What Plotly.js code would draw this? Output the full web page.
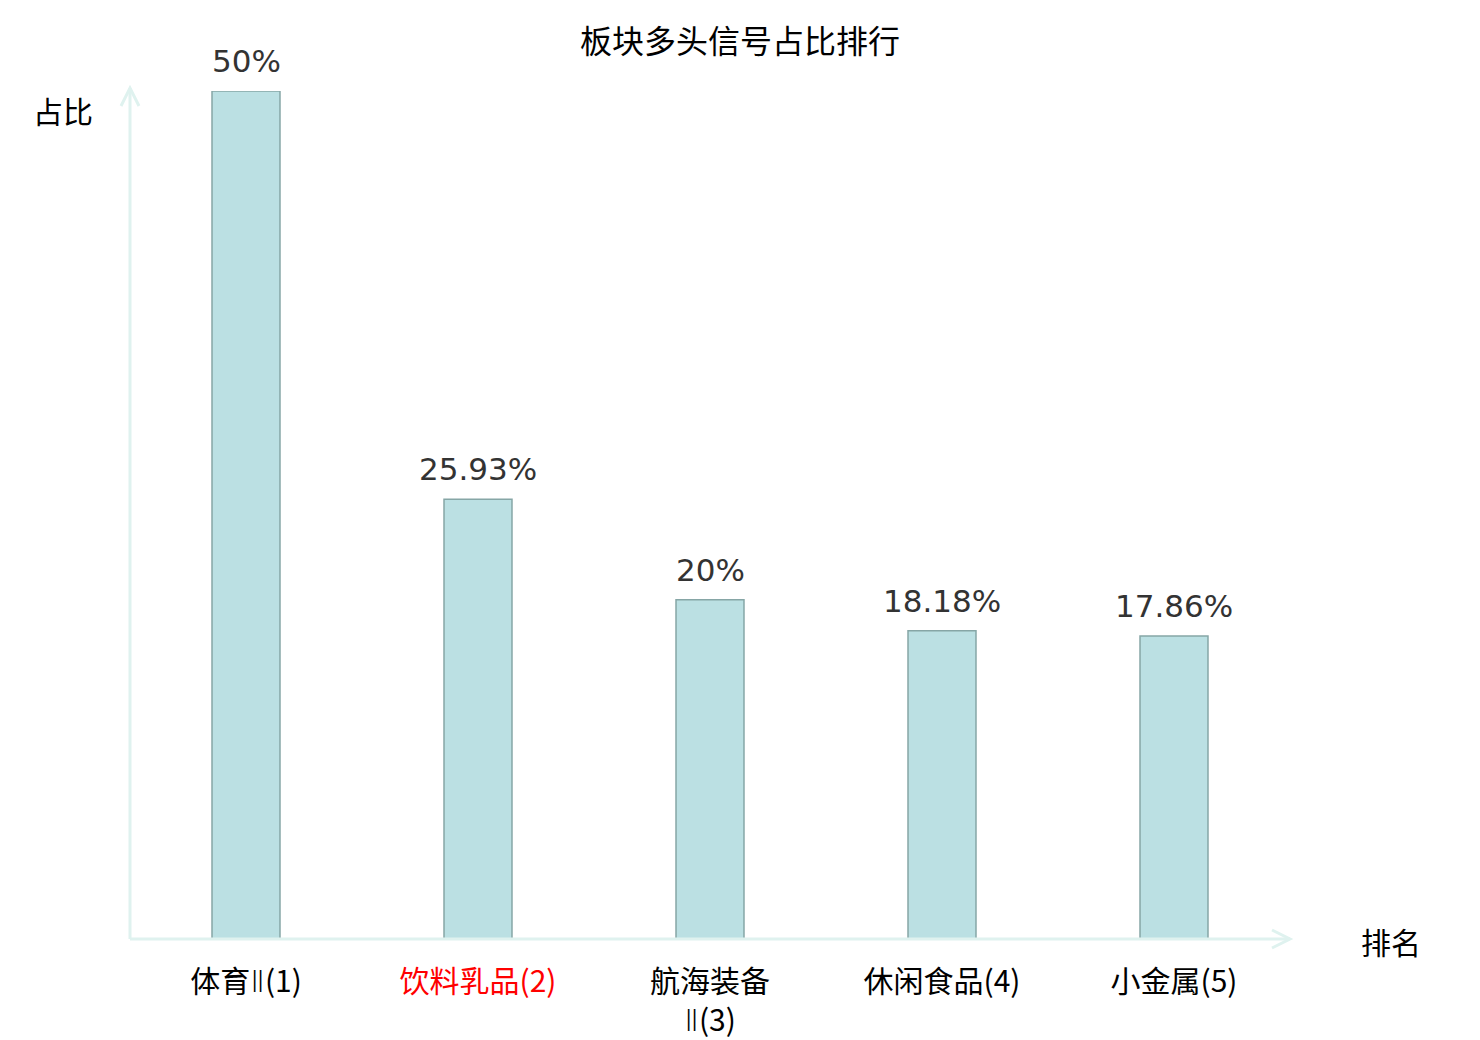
<!DOCTYPE html>
<html>
<head>
<meta charset="utf-8">
<script src="https://cdn.plot.ly/plotly-3.0.1.min.js"></script>
<style>
  body { margin: 0; background: #fff; }
  #chart { width: 1480px; height: 1040px; }
</style>
</head>
<body>
<div id="chart"></div>
<script>
// 板块多头信号占比排行
var sectors = ['体育Ⅱ(1)', '饮料乳品(2)', '航海装备<br>Ⅱ(3)', '休闲食品(4)', '小金属(5)'];
var ratios = [50, 25.93, 20, 18.18, 17.86];
var ratioText = ['50%', '25.93%', '20%', '18.18%', '17.86%'];
var highlight = 1;  // the red one

var fontFam = 'DejaVu Sans, "Noto Sans CJK SC", sans-serif';
var cjkFam = '"Noto Sans CJK SC", DejaVu Sans, sans-serif';
var axisColor = '#dff2ef';

// roman II looks too wide in the CJK font, take it from DejaVu
var tickText = sectors.map(function (s, i) {
  s = s.replace('Ⅱ', '<span style="font-family:DejaVu Sans;font-weight:300">Ⅱ</span>');
  return i == highlight ? '<span style="color:#ff0000">' + s + '</span>' : s;
});

var W = 1160, H = 848;  // plot area in px, used for the arrow heads

var data = [{
  x: [0, 1, 2, 3, 4],
  y: ratios,
  type: 'bar',
  width: 0.293,
  marker: {color: '#bbe0e3', line: {color: '#86a6a6', width: 1.5}},
  hoverinfo: 'none'
}];

// value labels above the bars
var valueLabels = ratios.map(function (v, i) {
  return {x: i, y: v, xref: 'x', yref: 'y', text: ratioText[i], showarrow: false,
    xanchor: 'center', yanchor: 'middle', yshift: 30,
    font: {size: 31, color: '#333333', family: fontFam}};
});

var layout = {
  width: 1480,
  height: 1040,
  margin: {l: 130, r: 190, t: 91, b: 101},
  paper_bgcolor: '#ffffff',
  plot_bgcolor: '#ffffff',
  showlegend: false,
  font: {family: fontFam, color: '#000000'},
  title: {
    text: '板块多头信号占比排行',
    font: {size: 32, color: '#000000', family: cjkFam},
    x: 0.5, xref: 'container', xanchor: 'center',
    y: 1 - 42 / 1040, yref: 'container', yanchor: 'middle'
  },
  xaxis: {
    range: [-0.5, 4.5],
    tickvals: [0, 1, 2, 3, 4],
    ticktext: tickText,
    tickfont: {size: 30, color: '#000000', family: cjkFam},
    showline: false, showgrid: false, zeroline: false,
    ticks: '', ticklabelstandoff: 22
  },
  yaxis: {
    range: [0, 50],
    showticklabels: false, showline: false, showgrid: false, zeroline: false, ticks: ''
  },
  shapes: [
    // y axis with arrow
    {type: 'line', xref: 'paper', yref: 'paper', x0: 0, y0: 0, x1: 0, y1: 1 + 3 / H,
      line: {color: axisColor, width: 3}},
    {type: 'path', xref: 'paper', yref: 'paper',
      path: 'M ' + (-9 / W) + ' ' + (1 - 15 / H) + ' L 0 ' + (1 + 3 / H) + ' L ' + (9 / W) + ' ' + (1 - 15 / H),
      line: {color: axisColor, width: 3}},
    // x axis with arrow
    {type: 'line', xref: 'paper', yref: 'paper', x0: 0, y0: 0, x1: 1, y1: 0,
      line: {color: axisColor, width: 3}},
    {type: 'path', xref: 'paper', yref: 'paper',
      path: 'M ' + (1 - 18 / W) + ' ' + (9 / H) + ' L 1 0 L ' + (1 - 18 / W) + ' ' + (-9 / H),
      line: {color: axisColor, width: 3}}
  ],
  annotations: valueLabels.concat([
    {text: '占比', xref: 'paper', yref: 'paper', x: (63 - 130) / W, y: (939 - 110) / H,
      xanchor: 'center', yanchor: 'middle', showarrow: false,
      font: {size: 30, color: '#000000', family: cjkFam}},
    {text: '排名', xref: 'paper', yref: 'paper', x: (1391 - 130) / W, y: (939 - 941) / H,
      xanchor: 'center', yanchor: 'middle', showarrow: false,
      font: {size: 30, color: '#000000', family: cjkFam}}
  ])
};

Plotly.newPlot('chart', data, layout, {displayModeBar: false, staticPlot: true});
</script>
</body>
</html>
